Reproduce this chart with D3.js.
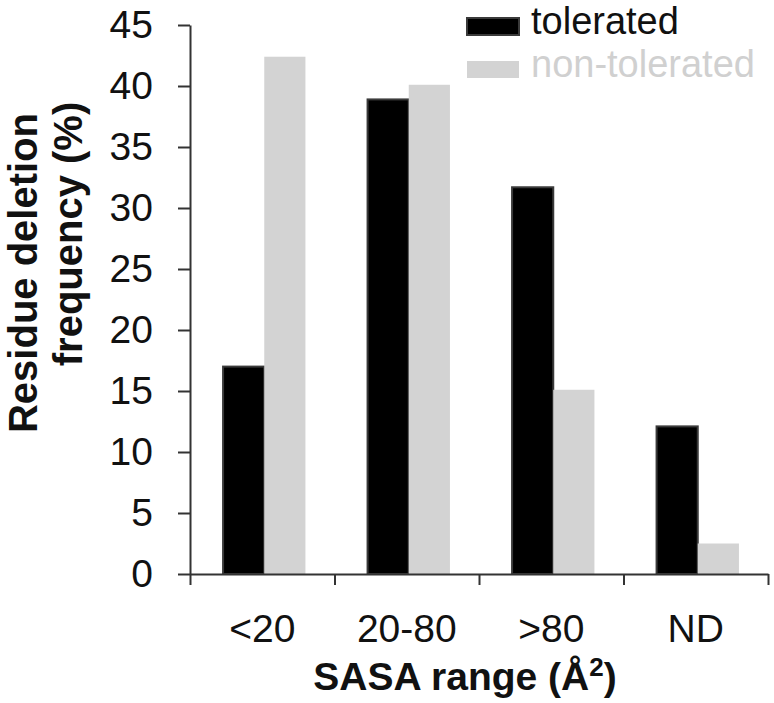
<!DOCTYPE html>
<html>
<head>
<meta charset="utf-8">
<script src="https://cdn.jsdelivr.net/npm/d3@7"></script>
<style>
  html, body { margin: 0; padding: 0; background: #fff; }
  svg { display: block; font-family: "Liberation Sans", Arial, sans-serif; }
</style>
</head>
<body>
<svg id="chart" width="774" height="703"></svg>
<script>
const categories = ["<20", "20-80", ">80", "ND"];
const seriesNames = ["tolerated", "non-tolerated"];
const tolerated = [17.0, 38.9, 31.7, 12.1];
const nonTolerated = [42.4, 40.1, 15.1, 2.5];
const yTicks = [0, 5, 10, 15, 20, 25, 30, 35, 40, 45];
const colors = ["#000000", "#d3d3d3"];

const svg = d3.select("#chart");
const mLeft = 190, mRight = 768, mTop = 25, mBottom = 574;

const y = d3.scaleLinear().domain([0, 45]).range([mBottom, mTop]);
const x0 = d3.scaleBand().domain(categories).range([mLeft, mRight])
  .paddingInner(0.43).paddingOuter(0.215);
const x1 = d3.scaleBand().domain(seriesNames).range([0, x0.bandwidth()]);

const data = categories.map((c, i) => ({
  cat: c,
  vals: [
    { name: seriesNames[0], v: tolerated[i] },
    { name: seriesNames[1], v: nonTolerated[i] }
  ]
}));

// bars
const groups = svg.append("g").selectAll("g").data(data).join("g")
  .attr("transform", d => `translate(${x0(d.cat) + 2},0)`);
groups.selectAll("rect").data(d => d.vals).join("rect")
  .attr("x", d => x1(d.name))
  .attr("y", d => y(d.v))
  .attr("width", x1.bandwidth())
  .attr("height", d => y(0) - y(d.v))
  .attr("fill", (d, i) => colors[i])
  .attr("stroke", (d, i) => i === 0 ? "#3a3a3a" : "none")
  .attr("stroke-width", 2);

// y axis
const yAxis = svg.append("g")
  .attr("transform", `translate(${mLeft},0)`)
  .call(d3.axisLeft(y).tickValues(yTicks).tickSize(12).tickPadding(25).tickSizeOuter(0));
yAxis.selectAll("text").attr("font-size", 39).attr("fill", "#111")
  .attr("font-family", "'Liberation Sans', Arial, sans-serif");

// x axis (ticks at category boundaries)
const xb = d3.scaleLinear().domain([0, categories.length]).range([mLeft, mRight]);
const xAxis = svg.append("g")
  .attr("transform", `translate(0,${mBottom})`)
  .call(d3.axisBottom(xb).tickValues(d3.range(categories.length + 1)).tickFormat("").tickSize(11).tickSizeOuter(0));

[yAxis, xAxis].forEach(a => {
  a.select(".domain").attr("stroke", "#333").attr("stroke-width", 2);
  a.selectAll(".tick line").attr("stroke", "#333").attr("stroke-width", 2);
});

// category labels
svg.append("g").selectAll("text").data(categories).join("text")
  .attr("x", d => x0(d) + x0.bandwidth() / 2)
  .attr("y", 642)
  .attr("text-anchor", "middle")
  .attr("font-size", 39)
  .attr("fill", "#111")
  .text(d => d);

// x title
const xt = svg.append("text")
  .attr("x", 465).attr("y", 690)
  .attr("text-anchor", "middle")
  .attr("font-size", 39).attr("font-weight", "bold").attr("fill", "#111");
xt.append("tspan").text("SASA range (Å");
xt.append("tspan").attr("font-size", 26).attr("dy", -14).text("2");
xt.append("tspan").attr("dy", 14).text(")");

// y title
svg.append("text")
  .attr("transform", "translate(37,273) rotate(-90)")
  .attr("text-anchor", "middle")
  .attr("font-size", 40).attr("font-weight", "bold").attr("fill", "#111")
  .text("Residue deletion");
svg.append("text")
  .attr("transform", "translate(82,234) rotate(-90)")
  .attr("text-anchor", "middle")
  .attr("font-size", 40).attr("font-weight", "bold").attr("fill", "#111")
  .text("frequency (%)");

// legend
const legend = svg.append("g").selectAll("g").data(seriesNames).join("g")
  .attr("transform", (d, i) => `translate(467,${18 + i * 43})`);
legend.append("rect")
  .attr("width", 52).attr("height", 17)
  .attr("fill", (d, i) => colors[i])
  .attr("stroke", (d, i) => i === 0 ? "#3a3a3a" : "none")
  .attr("stroke-width", 2);
legend.append("text")
  .attr("x", 64).attr("y", 16)
  .attr("font-size", 38)
  .attr("fill", (d, i) => i === 0 ? "#111" : "#d0d0d0")
  .text(d => d);
</script>
</body>
</html>
